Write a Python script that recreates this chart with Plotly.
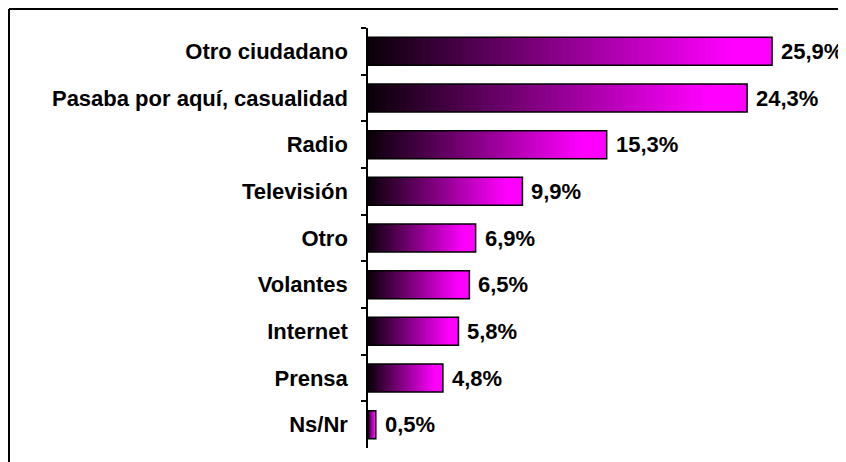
import plotly.graph_objects as go

categories = ["Otro ciudadano", "Pasaba por aquí, casualidad", "Radio", "Televisión",
              "Otro", "Volantes", "Internet", "Prensa", "Ns/Nr"]
values = [25.9, 24.3, 15.3, 9.9, 6.9, 6.5, 5.8, 4.8, 0.5]
value_labels = ["25,9%", "24,3%", "15,3%", "9,9%", "6,9%", "6,5%", "5,8%", "4,8%", "0,5%"]

FONT = "Liberation Sans, Arial, sans-serif"
N_SEG = 60
C0 = (10, 0, 8)
C1 = (255, 0, 255)
FULL_AT = 0.9

def grad_color(t):
    f = min(t / FULL_AT, 1.0)
    r = round(C0[0] + (C1[0] - C0[0]) * f)
    g = round(C0[1] + (C1[1] - C0[1]) * f)
    b = round(C0[2] + (C1[2] - C0[2]) * f)
    return f"rgb({r},{g},{b})"

fig = go.Figure()
for k in range(N_SEG):
    bases = [v * k / N_SEG for v in values]
    widths = [v * min(k + 2, N_SEG) / N_SEG - v * k / N_SEG for v in values]
    fig.add_trace(go.Bar(
        y=categories, x=widths, base=bases, orientation="h", width=0.6,
        marker=dict(color=grad_color((k + 0.5) / N_SEG), line=dict(width=0)),
        hoverinfo="skip", showlegend=False,
    ))
# outline
fig.add_trace(go.Bar(
    y=categories, x=values, orientation="h", width=0.6,
    marker=dict(color="rgba(0,0,0,0)", line=dict(color="black", width=1.5)),
    showlegend=False,
))

for c, v, t in zip(categories, values, value_labels):
    fig.add_annotation(x=v, y=c, text=t, showarrow=False, xanchor="left", yanchor="middle",
                       xshift=7, font=dict(family=FONT, size=22, color="black", weight="bold"))

# page body has an 8px margin; figure coordinates are screen - 8
W, H = 838, 454
L, R, T, B = 360, 10, 20, 14
pw, ph = W - L - R, H - T - B
bx, by = 1, 1
px0 = (bx - L) / pw
py1 = (H - B - by) / ph
fig.add_shape(type="line", xref="paper", yref="paper", x0=px0, x1=2, y0=py1, y1=py1,
              line=dict(color="black", width=2))
fig.add_shape(type="line", xref="paper", yref="paper", x0=px0, x1=px0, y0=py1, y1=-1,
              line=dict(color="black", width=2))

fig.update_layout(
    width=W, height=H, barmode="overlay",
    margin=dict(l=L, r=R, t=T, b=B),
    paper_bgcolor="white", plot_bgcolor="white",
    font=dict(family=FONT, color="black"),
    xaxis=dict(range=[0, 30], visible=False, showgrid=False, zeroline=False),
    yaxis=dict(range=[8.5, -0.5], type="category", showline=True, linecolor="black", linewidth=1.5,
               ticks="outside", tickson="boundaries", ticklen=5, tickwidth=1.5, tickcolor="black",
               showgrid=False, ticklabelstandoff=14,
               tickfont=dict(family=FONT, size=22, color="black", weight="bold")),
)
fig.write_html("out.html")
